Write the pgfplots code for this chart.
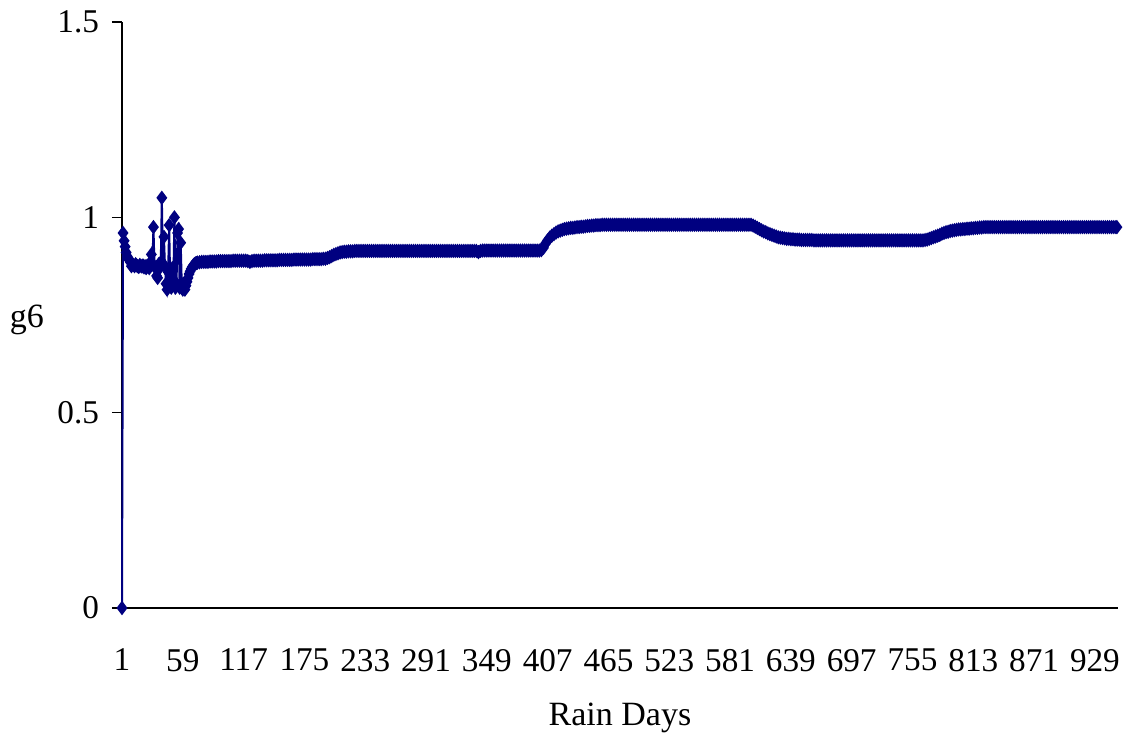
\documentclass[border=0pt]{standalone}
\usepackage{fontspec}
\setmainfont{Liberation Serif}
\usepackage{pgfplots}
\pgfplotsset{compat=1.18}
\definecolor{navy}{HTML}{000080}
\begin{document}
\begin{tikzpicture}
\begin{axis}[
  scale only axis,
  width=498pt, height=293pt,
  xmin=1, xmax=951, ymin=0, ymax=1.5,
  clip=false,
  axis x line=bottom, axis y line=left,
  axis line style={-, line width=0.6pt, black},
  xtick={1,59,...,929},
  ytick={0,0.5,1,1.5},
  yticklabels={0,0.5,1,1.5},
  xtick style={draw=none},
  ytick style={line width=0.6pt, black},
  tick align=outside,
  major tick length=5pt,
  /pgf/number format/assume math mode=true,
  tick label style={font=\fontsize{16.6}{19}\selectfont},
  xticklabel style={yshift=-12pt},
  yticklabel style={xshift=-3pt},
  xlabel={Rain Days},
  ylabel={g6},
  label style={font=\fontsize{17}{20}\selectfont},
  xlabel style={at={(axis description cs:0.5,-0.1875)}, anchor=center},
  ylabel style={at={(axis description cs:-0.0954,0.4915)}, anchor=center, rotate=-90},
]
\addplot[color=navy, line width=1pt, mark=diamond*, mark size=2.8pt, mark options={fill=navy, draw=navy}] coordinates {
(1,0) (2,0.96) (3,0.94) (4,0.925) (5,0.91) (6,0.90) (7,0.895) (8,0.89) (9,0.885) (10,0.875)
(11,0.88) (12,0.878) (13,0.875) (14,0.88) (15,0.877) (16,0.875) (17,0.873) (18,0.878) (19,0.876) (20,0.874)
(21,0.877) (22,0.872) (23,0.875) (24,0.87) (25,0.876) (26,0.873) (27,0.87) (28,0.885) (29,0.905) (30,0.88)
(31,0.975) (32,0.875) (33,0.87) (34,0.85) (35,0.845) (36,0.88) (37,0.87) (38,0.885) (39,1.05) (40,0.88)
(41,0.95) (42,0.875) (43,0.83) (44,0.815) (45,0.86) (46,0.98) (47,0.83) (48,0.82) (49,0.87) (50,0.84)
(51,1.0) (52,0.82) (53,0.83) (54,0.96) (55,0.97) (56,0.82) (57,0.935) (58,0.83) (59,0.815) (60,0.82)
(61,0.815) (62,0.825) (63,0.835) (64,0.845) (65,0.855) (66,0.862) (67,0.868) (68,0.873) (69,0.877) (70,0.88)
(71,0.882) (72,0.883) (73,0.884)
(75,0.885)(77,0.886)(79,0.886)(81,0.886)(83,0.886)(85,0.887)(87,0.887)(89,0.887)(91,0.887)(93,0.888)
(95,0.888)(97,0.888)(99,0.888)(101,0.888)(103,0.888)(105,0.888)(107,0.889)(109,0.889)(111,0.889)(113,0.889)
(115,0.889)(117,0.889)(119,0.889)(121,0.888)(123,0.886)(125,0.888)(127,0.889)(129,0.889)(131,0.889)(133,0.889)
(135,0.889)(137,0.890)(139,0.890)(141,0.890)(143,0.890)(145,0.890)(147,0.890)(149,0.890)(151,0.891)(153,0.891)
(155,0.891)(157,0.891)(159,0.891)(161,0.891)(163,0.891)(165,0.892)(167,0.892)(169,0.892)(171,0.892)(173,0.892)
(175,0.892)(177,0.892)(179,0.892)(181,0.892)(183,0.893)(185,0.893)(187,0.893)(189,0.893)(191,0.893)(193,0.894)
(195,0.894)(197,0.896)(199,0.898)(201,0.901)(203,0.904)(205,0.906)(207,0.908)(209,0.910)(211,0.911)(213,0.912)
(215,0.912)(217,0.913)(219,0.913)(221,0.913)(223,0.914)(225,0.914)(227,0.914)(229,0.914)(231,0.914)(233,0.914)
(235,0.914)(237,0.914)(239,0.914)(241,0.914)(243,0.914)(245,0.914)(247,0.914)(249,0.914)(251,0.914)(253,0.914)
(255,0.914)(257,0.914)(259,0.914)(261,0.914)(263,0.914)(265,0.914)(267,0.914)(269,0.914)(271,0.914)(273,0.914)
(275,0.914)(277,0.914)(279,0.914)(281,0.914)(283,0.914)(285,0.914)(287,0.914)(289,0.914)(291,0.914)(293,0.914)
(295,0.914)(297,0.914)(299,0.914)(301,0.914)(303,0.914)(305,0.914)(307,0.914)(309,0.914)(311,0.914)(313,0.914)
(315,0.914)(317,0.914)(319,0.914)(321,0.914)(323,0.914)(325,0.914)(327,0.914)(329,0.914)(331,0.914)(333,0.914)
(335,0.914)(337,0.914)(339,0.914)(341,0.911)(343,0.914)(345,0.915)(347,0.915)(349,0.915)(351,0.915)(353,0.915)
(355,0.915)(357,0.915)(359,0.915)(361,0.915)(363,0.915)(365,0.915)(367,0.915)(369,0.915)(371,0.915)(373,0.915)
(375,0.915)(377,0.915)(379,0.915)(381,0.915)(383,0.915)(385,0.915)(387,0.915)(389,0.915)(391,0.915)(393,0.915)
(395,0.915)(397,0.915)(399,0.915)(401,0.916)(403,0.922)(405,0.933)(407,0.941)(409,0.948)(411,0.953)(413,0.957)
(415,0.961)(417,0.964)(419,0.966)(421,0.968)(423,0.970)(425,0.971)(427,0.972)(429,0.973)(431,0.973)(433,0.974)
(435,0.975)(437,0.975)(439,0.976)(441,0.976)(443,0.977)(445,0.978)(447,0.978)(449,0.979)(451,0.979)(453,0.980)
(455,0.980)(457,0.980)(459,0.981)(461,0.981)(463,0.981)(465,0.981)(467,0.981)(469,0.981)(471,0.981)(473,0.981)
(475,0.981)(477,0.981)(479,0.981)(481,0.981)(483,0.981)(485,0.981)(487,0.981)(489,0.981)(491,0.981)(493,0.981)
(495,0.981)(497,0.981)(499,0.981)(501,0.981)(503,0.981)(505,0.981)(507,0.981)(509,0.981)(511,0.981)(513,0.981)
(515,0.981)(517,0.981)(519,0.981)(521,0.981)(523,0.981)(525,0.981)(527,0.981)(529,0.981)(531,0.981)(533,0.981)
(535,0.981)(537,0.981)(539,0.981)(541,0.981)(543,0.981)(545,0.981)(547,0.981)(549,0.981)(551,0.981)(553,0.981)
(555,0.981)(557,0.981)(559,0.981)(561,0.981)(563,0.981)(565,0.981)(567,0.981)(569,0.981)(571,0.981)(573,0.981)
(575,0.981)(577,0.981)(579,0.981)(581,0.981)(583,0.981)(585,0.981)(587,0.981)(589,0.981)(591,0.981)(593,0.981)
(595,0.981)(597,0.981)(599,0.981)(601,0.981)(603,0.979)(605,0.976)(607,0.973)(609,0.970)(611,0.967)(613,0.964)
(615,0.962)(617,0.959)(619,0.957)(621,0.955)(623,0.953)(625,0.951)(627,0.949)(629,0.948)(631,0.947)(633,0.946)
(635,0.945)(637,0.945)(639,0.944)(641,0.944)(643,0.943)(645,0.943)(647,0.943)(649,0.942)(651,0.942)(653,0.942)
(655,0.942)(657,0.942)(659,0.942)(661,0.941)(663,0.941)(665,0.941)(667,0.941)(669,0.941)(671,0.941)(673,0.941)
(675,0.941)(677,0.941)(679,0.941)(681,0.941)(683,0.941)(685,0.941)(687,0.941)(689,0.941)(691,0.941)(693,0.941)
(695,0.941)(697,0.941)(699,0.941)(701,0.941)(703,0.941)(705,0.941)(707,0.941)(709,0.941)(711,0.941)(713,0.941)
(715,0.941)(717,0.941)(719,0.941)(721,0.941)(723,0.941)(725,0.941)(727,0.941)(729,0.941)(731,0.941)(733,0.941)
(735,0.941)(737,0.941)(739,0.941)(741,0.941)(743,0.941)(745,0.941)(747,0.941)(749,0.941)(751,0.941)(753,0.941)
(755,0.941)(757,0.941)(759,0.941)(761,0.941)(763,0.941)(765,0.941)(767,0.942)(769,0.943)(771,0.945)(773,0.947)
(775,0.949)(777,0.951)(779,0.953)(781,0.955)(783,0.958)(785,0.960)(787,0.962)(789,0.963)(791,0.965)(793,0.966)
(795,0.967)(797,0.968)(799,0.969)(801,0.969)(803,0.970)(805,0.970)(807,0.971)(809,0.971)(811,0.972)(813,0.972)
(815,0.973)(817,0.973)(819,0.974)(821,0.974)(823,0.975)(825,0.975)(827,0.975)(829,0.975)(831,0.975)(833,0.975)
(835,0.975)(837,0.975)(839,0.975)(841,0.975)(843,0.975)(845,0.975)(847,0.975)(849,0.975)(851,0.975)(853,0.975)
(855,0.975)(857,0.975)(859,0.975)(861,0.975)(863,0.975)(865,0.975)(867,0.975)(869,0.975)(871,0.975)(873,0.975)
(875,0.975)(877,0.975)(879,0.975)(881,0.975)(883,0.975)(885,0.975)(887,0.975)(889,0.975)(891,0.975)(893,0.975)
(895,0.975)(897,0.975)(899,0.975)(901,0.975)(903,0.975)(905,0.975)(907,0.975)(909,0.975)(911,0.975)(913,0.975)
(915,0.975)(917,0.975)(919,0.975)(921,0.975)(923,0.975)(925,0.975)(927,0.975)(929,0.975)(931,0.975)(933,0.975)
(935,0.975)(937,0.975)(939,0.975)(941,0.975)(943,0.975)(945,0.975)(947,0.975)(949,0.975)(950,0.975)
};
\end{axis}
\pgfresetboundingbox
\path[use as bounding box] (-61pt,-64pt) rectangle (501.5pt,304pt);
\end{tikzpicture}
\end{document}
